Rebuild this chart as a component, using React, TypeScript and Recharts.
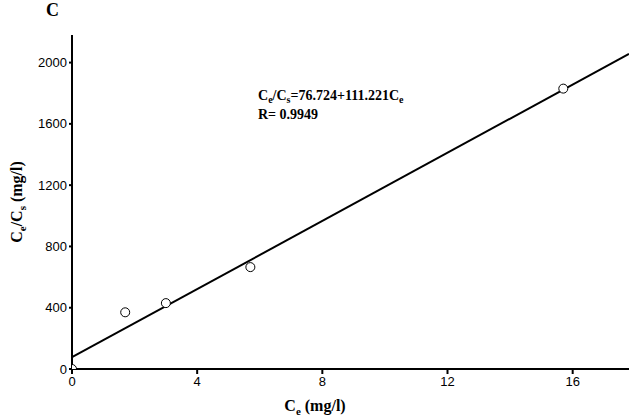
import React from 'react';
import { ComposedChart, Line, Scatter, XAxis, YAxis } from 'recharts';

const xTicks = [0, 4, 8, 12, 16];
const yTicks = [0, 400, 800, 1200, 1600, 2000];
const measuredCe = [0, 1.7, 3.0, 5.7, 15.7];
const measuredRatio = [0, 370, 430, 665, 1830];
const fitCe = [0, 17.8];
const intercept = 76.724;
const slope = 111.221;

const points = measuredCe.map((x, i) => ({ x, y: measuredRatio[i] }));
const fit = fitCe.map(x => ({ x, y: intercept + slope * x }));

const tickStyle = { fontFamily: 'Liberation Sans, Arial', fontSize: 13, fill: '#000' };
const bold = { fontFamily: 'Liberation Serif, Times New Roman', fontWeight: 'bold' as const, fill: '#000' };

export default function App() {
  return (
    <div style={{ position: 'fixed', top: 0, left: 0, width: 629, height: 419, background: '#fff', overflow: 'hidden' }}>
      <ComposedChart width={629} height={419} margin={{ top: 35, right: 0, bottom: 0, left: 0 }}>
        <XAxis type="number" dataKey="x" domain={[0, 17.8]} ticks={xTicks} allowDataOverflow
          height={50} tick={tickStyle} tickSize={5} axisLine={{ stroke: '#000', strokeWidth: 2 }}
          tickLine={{ stroke: '#000', strokeWidth: 2 }} tickMargin={3} />
        <YAxis type="number" dataKey="y" domain={[0, 2180]} ticks={yTicks} allowDataOverflow
          width={72} tick={tickStyle} tickSize={3} axisLine={{ stroke: '#000', strokeWidth: 2 }}
          tickLine={{ stroke: '#000', strokeWidth: 2 }} />
        <Line data={fit} dataKey="y" stroke="#000" strokeWidth={2} dot={false} isAnimationActive={false} />
        <Scatter data={points} dataKey="y" fill="#fff" stroke="#000" strokeWidth={1}
          shape={(p: any) => <circle cx={p.cx} cy={p.cy} r={4.5} fill="#fff" stroke="#000" />}
          isAnimationActive={false} />
        <text x={258} y={100} style={{ ...bold, fontSize: 14 }}>
          C<tspan fontSize={10} dy={3}>e</tspan><tspan dy={-3}>/C</tspan><tspan fontSize={10} dy={3}>s</tspan>
          <tspan dy={-3}>=76.724+111.221C</tspan><tspan fontSize={10} dy={3}>e</tspan>
        </text>
        <text x={258} y={119} style={{ ...bold, fontSize: 14 }}>R= 0.9949</text>
        <text x={315} y={411} textAnchor="middle" style={{ ...bold, fontSize: 16 }}>
          C<tspan fontSize={11} dy={4}>e</tspan><tspan dy={-4}> (mg/l)</tspan>
        </text>
        <text transform="translate(22,202) rotate(-90)" textAnchor="middle" style={{ ...bold, fontSize: 16 }}>
          C<tspan fontSize={11} dy={4}>e</tspan><tspan dy={-4}>/C</tspan><tspan fontSize={11} dy={4}>s</tspan>
          <tspan dy={-4}> (mg/l)</tspan>
        </text>
        <text x={46} y={16} style={{ ...bold, fontSize: 18 }}>C</text>
      </ComposedChart>
    </div>
  );
}
